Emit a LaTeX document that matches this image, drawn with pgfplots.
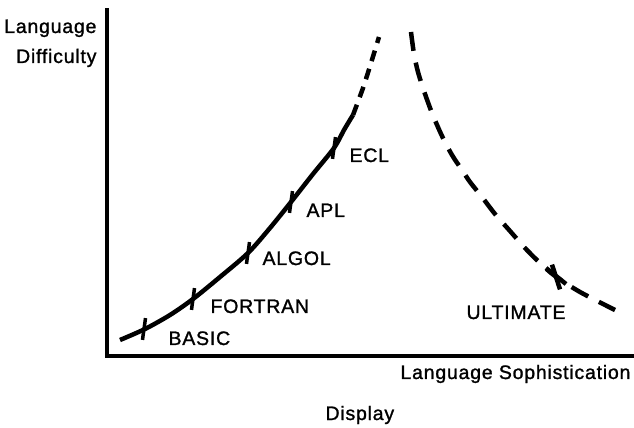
\documentclass[border=0pt]{standalone}
\usepackage{fontspec}
\setmainfont{Liberation Sans}[LetterSpace=4, FakeBold=1.2]
\usepackage{pgfplots}
\pgfplotsset{compat=1.18}
\begin{document}
\begin{tikzpicture}[font=\fontsize{19.5}{22}\selectfont]
\begin{axis}[
    x=1pt, y=1pt,
    xmin=107, xmax=632, ymin=68, ymax=414,
    axis x line=bottom, axis y line=left,
    axis line style={-, line width=4pt, line cap=rect},
    ticks=none, clip=false,
  ]
  % solid part of the rising curve
  \addplot[black, line width=4.5pt, smooth, tension=0.5] coordinates {
    (120,84) (145,95) (170,109) (193,125) (220,147) (248,171)
    (270,196) (291,222) (313,250) (334,276) (344,294) (353,309)};
  % dashed continuation
  \addplot[black, line width=4.5pt, smooth, dash pattern=on 11pt off 8pt] coordinates {
    (353,309) (363,336) (371,361) (379,387)};
  % falling dashed curve
  \addplot[black, line width=4.5pt, smooth, tension=0.5, dash pattern=on 19pt off 12pt] coordinates {
    (411,392) (414,370) (418,352) (424,333) (432,311) (442,288)
    (452,269) (462,254) (470,242) (482,227) (495,210) (510,193)
    (525,176) (540,161) (555,148) (580,132) (615,114)};
  \addplot[black, line width=4.5pt] coordinates {(546,156) (566,140)};
  % tick marks for the languages
  \addplot[only marks, mark=|, mark size=11pt,
    mark options={line width=3.5pt, rotate=-8}] coordinates {
    (144,95) (193,125) (248,171) (291,222) (334,276)};
  \addplot[only marks, mark=|, mark size=13pt,
    mark options={line width=4.5pt, rotate=18}] coordinates {(556,147)};

  \node[anchor=base west] at (axis cs:165,79) {BASIC};
  \node[anchor=base west] at (axis cs:207,111) {FORTRAN};
  \node[anchor=base west] at (axis cs:259,159) {ALGOL};
  \node[anchor=base west] at (axis cs:303,207) {APL};
  \node[anchor=base west] at (axis cs:346,262) {ECL};
  \node[anchor=base west] at (axis cs:463,105) {ULTIMATE};

  \node[anchor=base east] at (axis cs:100,391) {Language};
  \node[anchor=base east] at (axis cs:100,361) {Difficulty};
  \node[anchor=base east] at (axis cs:634,45) {Language Sophistication};
  \node[anchor=base west] at (axis cs:322,4) {Display};

  \path (axis cs:0,0) rectangle (axis cs:634,424);
\end{axis}
\end{tikzpicture}
\end{document}
